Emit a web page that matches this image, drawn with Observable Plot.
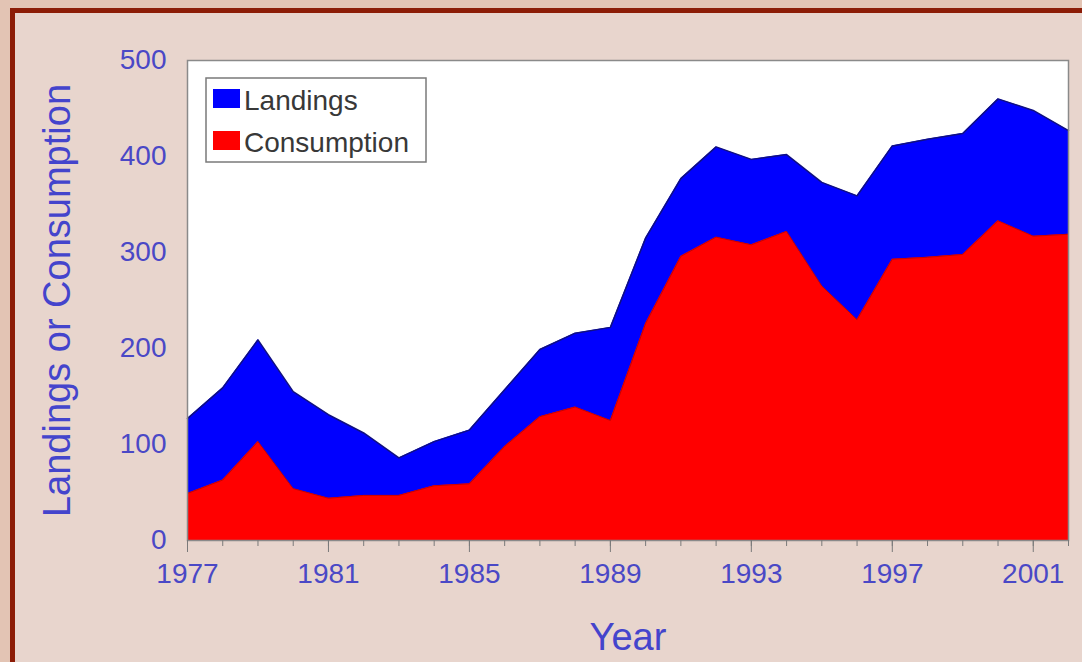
<!DOCTYPE html>
<html>
<head>
<meta charset="utf-8">
<script src="https://cdn.jsdelivr.net/npm/d3@7"></script>
<script src="https://cdn.jsdelivr.net/npm/@observablehq/plot@0.6"></script>
<style>
  html, body { margin: 0; padding: 0; background: #e3c4b4; }
  #wrap { position: relative; width: 1082px; height: 662px; overflow: hidden; background: #e3c4b4; }
  #border { position: absolute; left: 10px; top: 8px; right: -10px; bottom: -10px; background: #8c1c06; }
  #panel { position: absolute; left: 15px; top: 13px; right: -10px; bottom: -10px; background: #e8d5cd; }
  #chart { position: absolute; left: 0; top: 0; }
  #legend { position: absolute; left: 205px; top: 77px; }
</style>
</head>
<body>
<div id="wrap">
  <div id="border"></div>
  <div id="panel"></div>
  <div id="chart"></div>
  <div id="legend"></div>
</div>
<script>
const years = [1977,1978,1979,1980,1981,1982,1983,1984,1985,1986,1987,1988,1989,
               1990,1991,1992,1993,1994,1995,1996,1997,1998,1999,2000,2001,2002];
const landings = [127,159,209,155,131,112,86,103,115,157,199,216,222,
                  315,377,410,397,402,373,359,411,418,424,460,448,427];
const consumption = [49,63,103,54,44,47,47,57,59,98,129,139,125,
                     226,296,316,308,322,265,230,293,295,298,333,317,319];
const majorYears = [1977,1981,1985,1989,1993,1997,2001];
const yTicks = [0,100,200,300,400,500];
const seriesNames = ["Landings", "Consumption"];
const seriesColors = ["#0000ff", "#ff0000"];
const yLabel = "Landings or Consumption";
const xLabel = "Year";

const rows = years.map((year, i) => ({year, landings: landings[i], consumption: consumption[i]}));

const tickColor = "#4a48c6";
const labelColor = "#4444cc";
const font = "'Liberation Sans', Arial, Helvetica, sans-serif";

const chart = Plot.plot({
  width: 1082,
  height: 662,
  marginTop: 60,
  marginBottom: 122,
  marginLeft: 187,
  marginRight: 14,
  style: {background: "transparent", fontFamily: font, overflow: "visible"},
  x: {domain: [1977, 2002], label: null},
  y: {domain: [0, 500], label: null},
  marks: [
    Plot.frame({fill: "white"}),
    Plot.areaY(rows, {x: "year", y: "landings", fill: seriesColors[0]}),
    Plot.lineY(rows, {x: "year", y: "landings", stroke: "#101080", strokeWidth: 1.5}),
    Plot.areaY(rows, {x: "year", y: "consumption", fill: seriesColors[1]}),
    Plot.lineY(rows, {x: "year", y: "consumption", stroke: "#c80000", strokeWidth: 1}),
    Plot.frame({stroke: "#8a8a8a", strokeWidth: 1.5}),
    Plot.axisX({ticks: years, tickSize: 6, tickFormat: () => "", stroke: "#7a7a7a", label: null}),
    Plot.axisX({ticks: majorYears, tickSize: 12, tickPadding: 11, tickFormat: d => String(d),
                fontSize: 28, fill: tickColor, stroke: "#7a7a7a", label: null}),
    Plot.axisY({ticks: yTicks, tickSize: 0, tickPadding: 21, tickFormat: d => String(d),
                fontSize: 28, fill: tickColor, label: null}),
    Plot.text([yLabel], {text: d => d, frameAnchor: "left", textAnchor: "middle", lineAnchor: "middle",
                         dx: -130, rotate: -90, fontSize: 38, fill: labelColor}),
    Plot.text([xLabel], {text: d => d, frameAnchor: "bottom", textAnchor: "middle", lineAnchor: "middle",
                         dy: 97, fontSize: 38, fill: labelColor})
  ]
});
document.getElementById("chart").appendChild(chart);

// Legend (inside plot area, top-left)
const lg = d3.select("#legend").append("svg")
  .attr("width", 223).attr("height", 87)
  .style("font-family", font);
lg.append("rect").attr("x", 1).attr("y", 1).attr("width", 220).attr("height", 84)
  .attr("fill", "white").attr("stroke", "#7a7a7a").attr("stroke-width", 1.5);
seriesNames.forEach((name, i) => {
  const base = 33 + i * 42;
  lg.append("rect").attr("x", 8).attr("y", base - 21).attr("width", 27).attr("height", 19)
    .attr("fill", seriesColors[i]);
  lg.append("text").attr("x", 39).attr("y", base).attr("font-size", 28)
    .attr("fill", "#383838").text(name);
});
</script>
</body>
</html>
